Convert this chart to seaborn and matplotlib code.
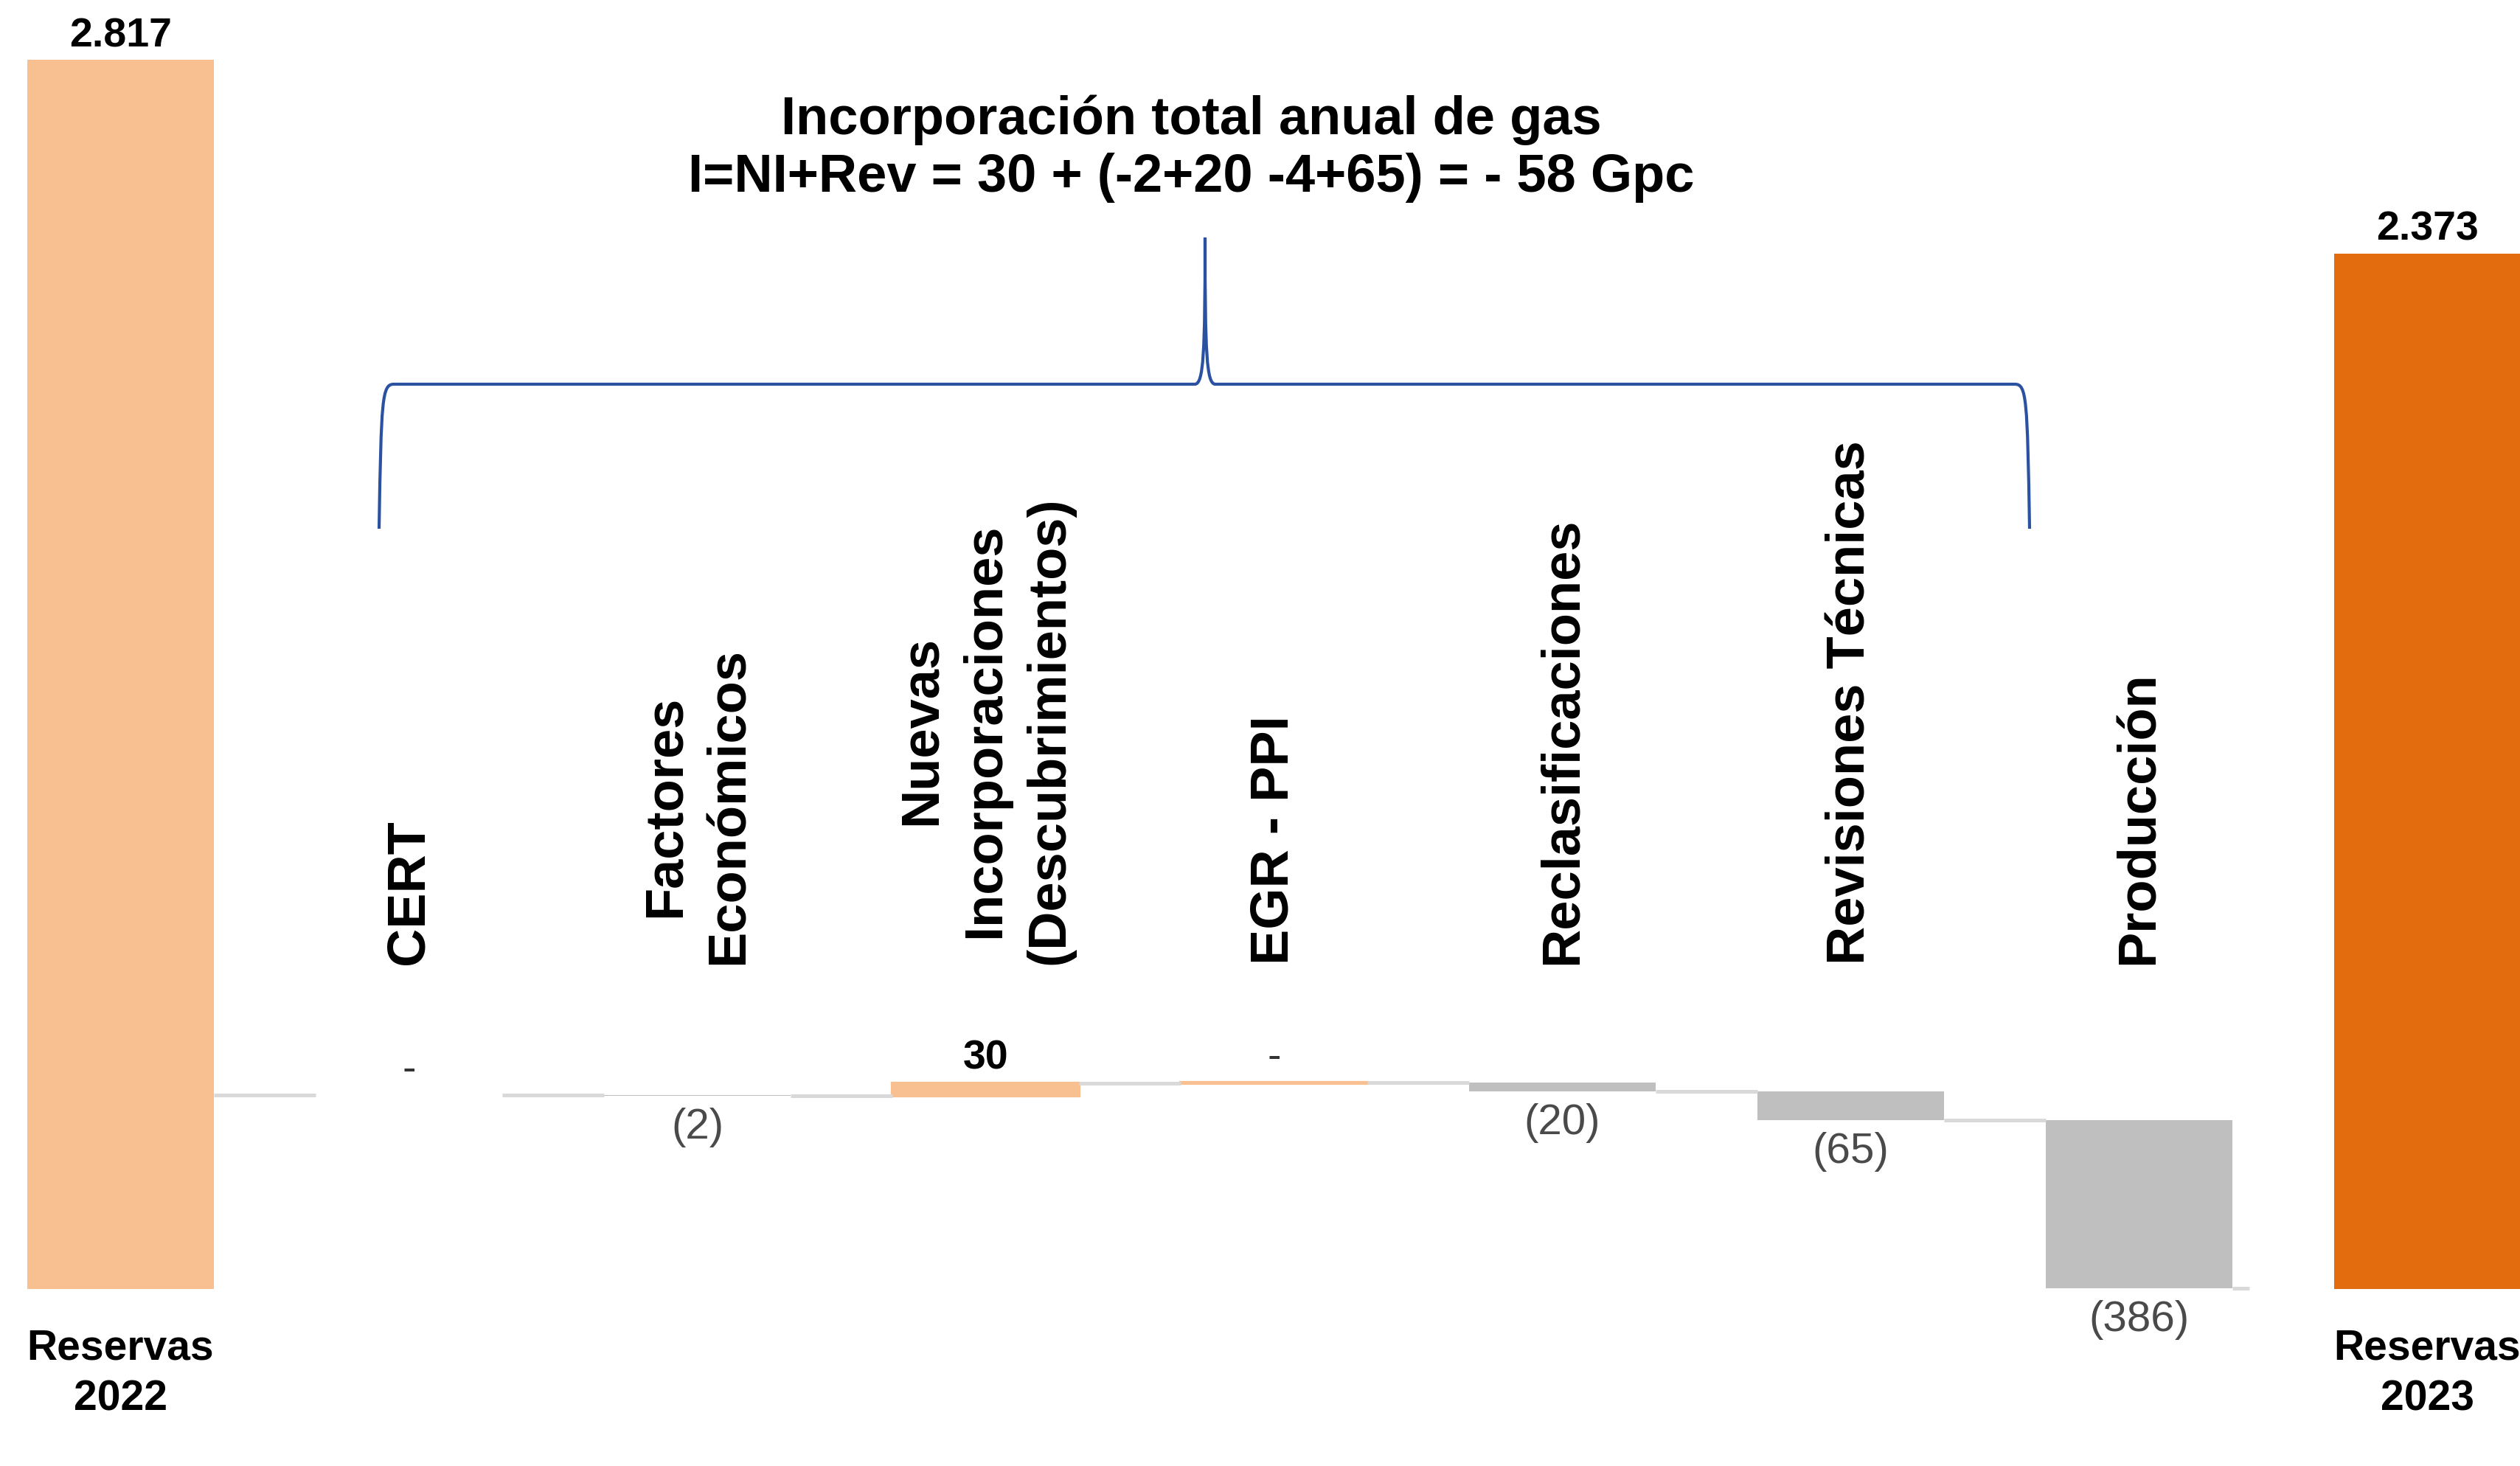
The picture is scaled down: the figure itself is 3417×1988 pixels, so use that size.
import numpy as np
import pandas as pd
import matplotlib
matplotlib.use("Agg")
import matplotlib.pyplot as plt
from matplotlib.path import Path
from matplotlib.patches import PathPatch
import seaborn as sns

# datos (Gpc)
categorias = ["Reservas\n2022", "CERT", "Factores\nEconómicos",
              "Nuevas\nIncorporaciones\n(Descubrimientos)", "EGR - PPI",
              "Reclasificaciones", "Revisiones Técnicas", "Producción",
              "Reservas\n2023"]
reserva_inicial = 2817
reserva_final = 2373
variaciones = [0, -2, 30, 0.4, -20, -65, -386]
titulo = "Incorporación total anual de gas\nI=NI+Rev = 30 + (-2+20 -4+65) = - 58 Gpc"

sns.set_style("white")
plt.rcParams["font.family"] = ["Liberation Sans", "DejaVu Sans"]
plt.rcParams["text.color"] = "black"

c_ini = "#F8C090"
c_fin = "#E36C0E"
c_sube = "#F8C090"
c_baja = "#BFBFBF"
c_linea = "#D9D9D9"

# waterfall: nivel relativo a la reserva final
inicio = reserva_inicial - reserva_final
antes = inicio + np.concatenate([[0], np.cumsum(variaciones)[:-1]])
despues = inicio + np.cumsum(variaciones)
bases = [0] + list(np.minimum(antes, despues)) + [0]
alturas = [reserva_inicial] + list(np.abs(variaciones)) + [reserva_final]
colores = [c_ini] + [c_sube if v > 0 else c_baja for v in variaciones] + [c_fin]

df = pd.DataFrame({"categoria": categorias, "base": bases, "altura": alturas})

fig = plt.figure(figsize=(34.17, 19.88), dpi=100)
ax = fig.add_axes([0, 0, 1, 1])
w = 0.645
sns.barplot(data=df, x="categoria", y="altura", bottom=df["base"].values,
            order=categorias, width=w, errorbar=None, color=c_baja, ax=ax)
for p, col, v in zip(ax.patches, colores, [None] + variaciones + [None]):
    p.set_facecolor(col)
    if v is not None and v > 0:
        p.set_edgecolor(col)
        p.set_linewidth(3)
    else:
        p.set_edgecolor("none")
        p.set_linewidth(0)

# conectores
niveles = [inicio] + list(despues)
for k in range(len(niveles) - 1):
    ax.hlines(niveles[k], k + w / 2, k + 1 - w / 2, color=c_linea, lw=3.6, zorder=1)
ax.hlines(niveles[-1], len(niveles) - 1 + w / 2, len(niveles) - 1 + w / 2 + 0.06,
          color=c_linea, lw=3.6, zorder=1)

# etiquetas de valores
for pos, val in [(0, reserva_inicial), (len(categorias) - 1, reserva_final)]:
    ax.annotate(f"{val:,}".replace(",", "."), (pos, val), xytext=(0, 13),
                textcoords="offset points", ha="center", va="baseline",
                fontsize=40, fontweight="bold", color="black")
for i, v in enumerate(variaciones):
    pos = i + 1
    top = max(antes[i], despues[i])
    bot = min(antes[i], despues[i])
    if round(v) == 0:
        ax.annotate("-", (pos, top), xytext=(0, 14), textcoords="offset points",
                    ha="center", va="baseline", fontsize=40, color="#333333")
    elif v > 0:
        ax.annotate(f"{v:g}", (pos, top), xytext=(0, 14), textcoords="offset points",
                    ha="center", va="baseline", fontsize=40, fontweight="bold",
                    color="black")
    else:
        ax.annotate(f"({abs(v):g})", (pos, bot), xytext=(0, -31),
                    textcoords="offset points", ha="center", va="center",
                    fontsize=42, color="#4A4A4A")

# nombres de categorias
trans = ax.get_xaxis_transform()
for pos, cat in enumerate(categorias):
    if cat.startswith("Reservas"):
        ax.text(pos, 0.063, cat, transform=trans, ha="center", va="center",
                fontsize=41, fontweight="bold", linespacing=1.35, color="black")
    else:
        ax.text(pos, 0.342, cat, transform=trans, rotation=90, ha="center",
                va="bottom", multialignment="center", fontsize=52,
                fontweight="bold", linespacing=1.35, color="black")

# titulo y llave
fig.text(0.4727, 0.8986, titulo, ha="center", va="center", fontsize=52,
         fontweight="bold", linespacing=1.2, color="black")

W, H = 3417, 1988
x0, x1, xt = 514, 2752, 1634
yb, yh, yt = 717, 521, 322
pts = [(x0, yb), (x0 + 3, 540), (x0 + 4, yh), (x0 + 20, yh),
       (xt - 14, yh),
       (xt - 2, yh), (xt, 480), (xt, yt),
       (xt, 480), (xt + 2, yh), (xt + 14, yh),
       (x1 - 20, yh),
       (x1 - 4, yh), (x1 - 3, 540), (x1, yb)]
codes = [Path.MOVETO, Path.CURVE4, Path.CURVE4, Path.CURVE4,
         Path.LINETO,
         Path.CURVE4, Path.CURVE4, Path.CURVE4,
         Path.CURVE4, Path.CURVE4, Path.CURVE4,
         Path.LINETO,
         Path.CURVE4, Path.CURVE4, Path.CURVE4]
verts = [(x / W, 1 - y / H) for x, y in pts]
fig.patches.append(PathPatch(Path(verts, codes), transform=fig.transFigure,
                             fill=False, edgecolor="#2A52A0", lw=3))

ax.set_xlim(-0.418, 8.321)
ax.set_ylim(-406, 2954)
ax.axis("off")

fig.savefig("out.png", dpi=100, facecolor="white")
